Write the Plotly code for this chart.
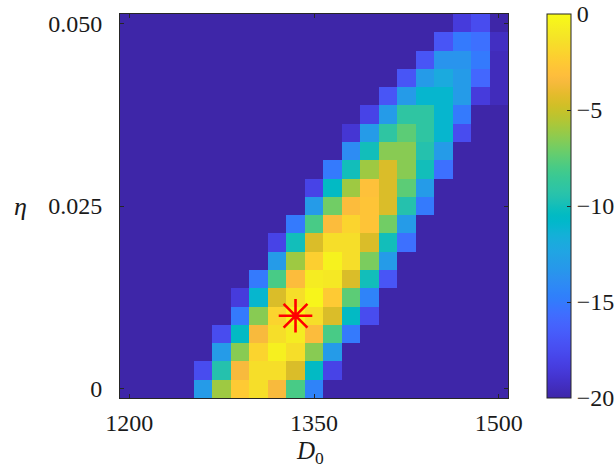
import plotly.graph_objects as go

# ---- data ----
D0 = [1200 + 15 * i for i in range(21)]          # 1200 ... 1500
ETA = [0.0025 * j for j in range(21)]             # 0 ... 0.05
B = -20
Z = [
    [B, B, B, B, -13, -6, -2.5, -1.5, -3.5, -8, -14.5, B, B, B, B, B, B, B, B, B, B],
    [B, B, B, B, -17.5, -9.5, -3.5, -1.5, -1.5, -4.5, -10.5, -18, B, B, B, B, B, B, B, B, B],
    [B, B, B, B, B, -13, -6.5, -2, -0.6, -1.5, -6.5, -13, B, B, B, B, B, B, B, B, B],
    [B, B, B, B, B, -17.5, -10.5, -3.5, -1.5, -0.8, -3.3, -8, -15, B, B, B, B, B, B, B, B],
    [B, B, B, B, B, B, -15, -6.5, -2, -0.3, -1.5, -4.5, -10.5, -17.5, B, B, B, B, B, B, B],
    [B, B, B, B, B, B, -18.5, -11, -4.5, -1.5, -0.3, -2.5, -7.5, -14.5, B, B, B, B, B, B, B],
    [B, B, B, B, B, B, B, -15, -8, -3.3, -0.8, -1.0, -4.5, -10, -17, B, B, B, B, B, B],
    [B, B, B, B, B, B, B, B, -13, -6, -2.2, -0.5, -1.5, -6.8, -13, B, B, B, B, B, B],
    [B, B, B, B, B, B, B, B, -18, -10, -4.5, -1.5, -1.5, -4.5, -10, -15.5, B, B, B, B, B],
    [B, B, B, B, B, B, B, B, B, -15, -8, -3.3, -2, -2.8, -7, -13, B, B, B, B, B],
    [B, B, B, B, B, B, B, B, B, B, -13, -7, -3.3, -2.8, -4.5, -9.5, -15, B, B, B, B],
    [B, B, B, B, B, B, B, B, B, B, -18, -10.5, -6, -3, -4.5, -7.5, -13, B, B, B, B],
    [B, B, B, B, B, B, B, B, B, B, B, -15, -10, -6, -4.5, -6.5, -10, -15.5, B, B, B],
    [B, B, B, B, B, B, B, B, B, B, B, B, -14, -10, -6.5, -6.5, -9.5, -13, B, B, B],
    [B, B, B, B, B, B, B, B, B, B, B, B, -18.8, -13, -9, -7.5, -9, -11, -17.5, B, B],
    [B, B, B, B, B, B, B, B, B, B, B, B, B, -18, -13, -9, -9, -11, -15, B, B],
    [B, B, B, B, B, B, B, B, B, B, B, B, B, B, -17, -13, -11, -11, -13, -18.5, -19.5],
    [B, B, B, B, B, B, B, B, B, B, B, B, B, B, B, -17, -13, -12, -13, -16, -19.5],
    [B, B, B, B, B, B, B, B, B, B, B, B, B, B, B, B, -17, -13.5, -13.5, -15, -19.5],
    [B, B, B, B, B, B, B, B, B, B, B, B, B, B, B, B, B, -17, -15, -15.5, -19.3],
    [B, B, B, B, B, B, B, B, B, B, B, B, B, B, B, B, B, B, -18.5, -17.5, B],
]
BEST_D0 = [1335]
BEST_ETA = [0.01]

X_TICKS = [1200, 1350, 1500]
X_TICKTEXT = ["1200", "1350", "1500"]
Y_TICKS = [0, 0.025, 0.05]
Y_TICKTEXT = ["0", "0.025", "0.050"]
CB_TICKS = [0, -5, -10, -15, -20]
X_RANGE = [1192.5, 1507.5]
Y_RANGE = [-0.00125, 0.05125]

PARULA = [
    (0.2422, 0.1504, 0.6603), (0.2504, 0.1650, 0.7076), (0.2578, 0.1818, 0.7511),
    (0.2647, 0.1978, 0.7952), (0.2706, 0.2147, 0.8364), (0.2751, 0.2342, 0.8710),
    (0.2783, 0.2559, 0.8991), (0.2803, 0.2782, 0.9221), (0.2813, 0.3006, 0.9414),
    (0.2810, 0.3228, 0.9579), (0.2795, 0.3447, 0.9717), (0.2760, 0.3667, 0.9829),
    (0.2699, 0.3892, 0.9906), (0.2602, 0.4123, 0.9952), (0.2440, 0.4358, 0.9988),
    (0.2206, 0.4603, 0.9973), (0.1963, 0.4847, 0.9892), (0.1834, 0.5074, 0.9798),
    (0.1786, 0.5289, 0.9682), (0.1764, 0.5499, 0.9520), (0.1687, 0.5703, 0.9359),
    (0.1540, 0.5902, 0.9218), (0.1460, 0.6091, 0.9079), (0.1380, 0.6276, 0.8973),
    (0.1248, 0.6459, 0.8883), (0.1113, 0.6635, 0.8763), (0.0952, 0.6798, 0.8598),
    (0.0689, 0.6948, 0.8394), (0.0297, 0.7082, 0.8163), (0.0036, 0.7203, 0.7917),
    (0.0067, 0.7312, 0.7660), (0.0433, 0.7411, 0.7394), (0.0964, 0.7500, 0.7120),
    (0.1408, 0.7584, 0.6842), (0.1717, 0.7670, 0.6554), (0.1938, 0.7758, 0.6251),
    (0.2161, 0.7843, 0.5923), (0.2470, 0.7918, 0.5567), (0.2906, 0.7973, 0.5188),
    (0.3406, 0.8008, 0.4789), (0.3909, 0.8029, 0.4354), (0.4456, 0.8024, 0.3909),
    (0.5044, 0.7993, 0.3480), (0.5616, 0.7942, 0.3045), (0.6174, 0.7876, 0.2612),
    (0.6720, 0.7793, 0.2227), (0.7242, 0.7698, 0.1910), (0.7738, 0.7598, 0.1646),
    (0.8203, 0.7498, 0.1535), (0.8634, 0.7406, 0.1596), (0.9035, 0.7330, 0.1774),
    (0.9393, 0.7288, 0.2100), (0.9728, 0.7298, 0.2394), (0.9956, 0.7434, 0.2371),
    (0.9970, 0.7659, 0.2199), (0.9952, 0.7893, 0.2028), (0.9892, 0.8136, 0.1885),
    (0.9786, 0.8386, 0.1766), (0.9676, 0.8639, 0.1643), (0.9610, 0.8890, 0.1537),
    (0.9597, 0.9135, 0.1423), (0.9628, 0.9373, 0.1265), (0.9691, 0.9606, 0.1064),
    (0.9769, 0.9839, 0.0805),
]
n = len(PARULA)
colorscale = [
    [k / (n - 1), "rgb(%d,%d,%d)" % tuple(round(c * 255) for c in rgb)]
    for k, rgb in enumerate(PARULA)
]

FONT = "Liberation Serif"
FS = 24
TXT = "#1a1a1a"
AX = "#262626"
CLEAR = "rgba(0,0,0,0)"

# layout geometry (pixels): plot box 120..508 x 14..398, colorbar at 547
W, H = 616, 470
ML, MT, MB = 120, 14, 72
PAPER_W = W - ML
X_DOM = [0, 388 / PAPER_W]
CB_X = (547 - ML) / PAPER_W

fig = go.Figure()
fig.add_trace(go.Heatmap(
    x=D0, y=ETA, z=Z, zmin=-20, zmax=0, colorscale=colorscale,
    colorbar=dict(
        x=CB_X, xanchor="left", xpad=0, ypad=0,
        y=0.5, yanchor="middle", len=1, lenmode="fraction",
        thickness=24, thicknessmode="pixels",
        outlinewidth=1, outlinecolor=AX,
        tickmode="array", tickvals=CB_TICKS,
        ticks="inside", ticklen=4, tickcolor=AX,
        tickfont=dict(family=FONT, size=FS, color=TXT),
    ),
    hoverinfo="skip",
))
fig.add_trace(go.Scatter(
    x=BEST_D0, y=BEST_ETA, mode="markers",
    marker=dict(symbol="asterisk-open", size=28, color="red",
                line=dict(color="red", width=2.6)),
    showlegend=False, hoverinfo="skip",
))
# empty trace that carries the overlay axes (inside tick marks)
fig.add_trace(go.Scatter(x=[], y=[], xaxis="x2", yaxis="y2",
                         showlegend=False, hoverinfo="skip"))

fig.update_layout(
    xaxis=dict(
        domain=X_DOM, automargin=False,
        range=X_RANGE, tickmode="array", tickvals=X_TICKS, ticktext=X_TICKTEXT,
        ticks="outside", ticklen=3, tickcolor=CLEAR,
        showline=True, linecolor=AX, linewidth=1, mirror=True,
        showgrid=False, zeroline=False,
        tickfont=dict(family=FONT, size=FS, color=TXT),
    ),
    yaxis=dict(
        automargin=False,
        range=Y_RANGE, tickmode="array", tickvals=Y_TICKS, ticktext=Y_TICKTEXT,
        ticks="outside", ticklen=12, tickcolor=CLEAR,
        showline=True, linecolor=AX, linewidth=1, mirror=True,
        showgrid=False, zeroline=False,
        tickfont=dict(family=FONT, size=FS, color=TXT),
    ),
    xaxis2=dict(
        domain=X_DOM, automargin=False,
        overlaying="x", side="bottom", range=X_RANGE,
        tickmode="array", tickvals=X_TICKS, showticklabels=False,
        ticks="inside", ticklen=4, tickcolor=AX,
        showline=True, linecolor=AX, linewidth=1, mirror="ticks",
        showgrid=False, zeroline=False,
    ),
    yaxis2=dict(
        automargin=False,
        overlaying="y", side="left", range=Y_RANGE,
        tickmode="array", tickvals=Y_TICKS, showticklabels=False,
        ticks="inside", ticklen=4, tickcolor=AX,
        showline=True, linecolor=AX, linewidth=1, mirror="ticks",
        showgrid=False, zeroline=False,
    ),
)

fig.add_annotation(
    text="<i>D</i><sub>0</sub>", xref="x domain", yref="y domain", x=0.49, y=-0.143,
    xanchor="center", yanchor="middle", showarrow=False,
    font=dict(family=FONT, size=25, color=TXT),
)
fig.add_annotation(
    text="<i>η</i>", xref="x domain", yref="y domain", x=-0.2577, y=0.5,
    xanchor="center", yanchor="middle", showarrow=False,
    font=dict(family=FONT, size=26, color=TXT),
)

fig.update_layout(
    width=W, height=H,
    margin=dict(l=ML, r=0, t=MT, b=MB, autoexpand=False),
    paper_bgcolor="white", plot_bgcolor="white",
    showlegend=False,
)
fig.write_html("out.html")
